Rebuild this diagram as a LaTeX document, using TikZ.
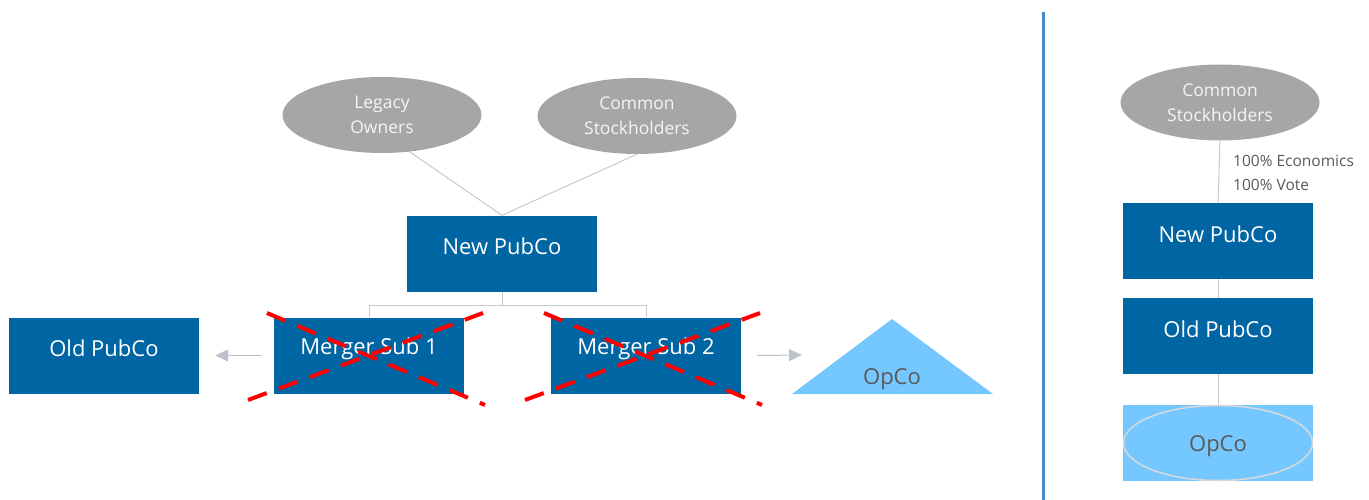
\documentclass[tikz,border=0pt]{standalone}
\usepackage{fontspec}
\setmainfont{Open Sans}
\usetikzlibrary{arrows.meta,shapes.geometric,backgrounds}
\definecolor{boxblue}{HTML}{0065A3}
\definecolor{ellgray}{HTML}{A6A6A6}
\definecolor{lightblue}{HTML}{75C8FF}
\definecolor{linegray}{HTML}{C8C8C8}
\definecolor{arrowgray}{HTML}{BDC1C9}
\definecolor{sepblue}{HTML}{4A88CF}
\definecolor{darktext}{HTML}{595959}
\definecolor{elltext}{HTML}{F5F5F5}
\definecolor{ringgray}{HTML}{D9D9D9}
\begin{document}
\begin{tikzpicture}[x=1pt,y=-1pt,
 bluebox/.style={draw=none,fill=boxblue,minimum width=190pt,minimum height=76pt,inner sep=0pt},
 boxtext/.style={text=white,font=\fontsize{22}{26}\selectfont,inner sep=0pt},
 owner/.style={ellipse,fill=ellgray,minimum width=199pt,minimum height=76pt,inner sep=0pt,text=elltext,align=center,font=\fontsize{17.5}{25}\selectfont},
 conn/.style={draw=linegray,line width=1pt},
 flow/.style={draw=arrowgray,line width=1pt,-{Triangle[length=13pt,width=12pt]}},
 cross/.style={draw=red,line width=4pt,dash pattern=on 20pt off 13pt},
 lbltext/.style={anchor=base west,text=darktext,font=\fontsize{15.5}{23}\selectfont,inner sep=0pt},
 opcotext/.style={text=darktext,font=\fontsize{22}{26}\selectfont,inner sep=0pt,text height=16pt,text depth=0pt},
]
\useasboundingbox (0,0) rectangle (1369,500);

% ---------- left diagram ----------
\node[owner] (lo) at (382,115) {Legacy\\Owners};
\node[owner] (cs) at (637,116) {Common\\Stockholders};

\node[bluebox] (np) at (502,253.5) {};
\node[boxtext] (npt) at ([yshift=7pt]np.center) {New PubCo};

\node[bluebox] (op) at (104,355.5) {};
\node[boxtext] (opt) at ([yshift=7pt]op.center) {Old PubCo};

\node[bluebox] (ms1) at (369,355.5) {};
\node[boxtext] (ms1t) at ([yshift=7pt]ms1.center) {Merger Sub 1};

\node[bluebox] (ms2) at (646,355.5) {};
\node[boxtext] (ms2t) at ([yshift=7pt]ms2.center) {Merger Sub 2};

\fill[lightblue] (792,394) -- (892,319) -- (993,394) -- cycle;
\coordinate (tri) at (802,355);
\node[opcotext] (oct) at (892,376.5) {OpCo};

\begin{scope}[on background layer]
\draw[conn] ([xshift=-26pt]lo.center) -- (np.north);
\draw[conn] (cs.south) -- (np.north);
\end{scope}

\coordinate (j) at (502,305);
\draw[conn] (np.south) -- (j);
\draw[conn] (j) -| (ms1.north);
\draw[conn] (j) -| (ms2.north);

\draw[flow] ([xshift=-12pt]ms1.west) -- ([xshift=16pt]op.east);
\draw[flow] ([xshift=16pt]ms2.east) -- (tri);

\foreach \m in {ms1,ms2}{
  \draw[cross] ([shift={(-102,-42.5)}]\m.center) -- ([shift={(116,49.5)}]\m.center);
  \draw[cross] ([shift={(-121,44.5)}]\m.center) -- ([shift={(114,-42.5)}]\m.center);
}

% ---------- separator ----------
\draw[sepblue,line width=3pt] (1043,12) -- (1043,500);

% ---------- right diagram ----------
\node[owner] (cs2) at (1220,102.5) {Common\\Stockholders};
\node[bluebox] (np2) at (1218,241) {};
\node[boxtext] (np2t) at ([yshift=7pt]np2.center) {New PubCo};
\node[bluebox] (op2) at (1218,336) {};
\node[boxtext] (op2t) at ([yshift=7pt]op2.center) {Old PubCo};
\node[draw=none,fill=lightblue,minimum width=190pt,minimum height=76pt,inner sep=0pt] (oc2) at (1218,443) {};
\node[ellipse,draw=ringgray,line width=1.5pt,minimum width=189pt,minimum height=75pt,inner sep=0pt] (oc2e) at (oc2.center) {};
\node[opcotext] (oc2t) at (oc2.center) {OpCo};

\draw[conn] (cs2.south) -- (np2.north);
\draw[conn] (np2.south) -- (op2.north);
\draw[conn] (op2.south) -- (oc2.north);

\node[lbltext] (lbl1) at (1233,167) {100\% Economics};
\node[lbltext] (lbl2) at (1233,190) {100\% Vote};
\end{tikzpicture}
\end{document}
